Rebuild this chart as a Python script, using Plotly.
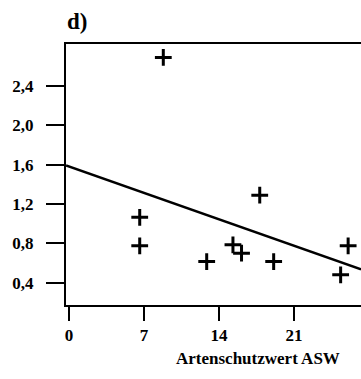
import plotly.graph_objects as go

# Data
asw = [8.8, 17.8, 6.6, 6.6, 12.85, 15.3, 16.1, 19.1, 25.35, 26.05]
vals = [2.69, 1.29, 1.065, 0.775, 0.615, 0.785, 0.70, 0.615, 0.48, 0.775]

reg_intercept = 1.582
reg_slope = -0.0384

x_ticks = [0, 7, 14, 21]
y_ticks = [0.4, 0.8, 1.2, 1.6, 2.0, 2.4]

x_range = [-0.28, 27.25]
y_range = [0.173, 2.827]

line_x = x_range
line_y = [reg_intercept + reg_slope * v for v in line_x]

font_family = "Liberation Serif"

fig = go.Figure()
fig.add_trace(go.Scatter(
    x=line_x, y=line_y, mode="lines",
    line=dict(color="black", width=2.5), showlegend=False,
))
fig.add_trace(go.Scatter(
    x=asw, y=vals, mode="markers",
    marker=dict(symbol="cross-thin", size=12, line=dict(color="black", width=3)),
    showlegend=False, cliponaxis=False,
))

fig.update_layout(
    width=361, height=379,
    margin=dict(l=66, r=0, t=44, b=74),
    paper_bgcolor="white", plot_bgcolor="white",
    separators=",.",
    font=dict(family=font_family, color="black"),
    xaxis=dict(
        range=x_range, tickvals=x_ticks, ticktext=[str(v) for v in x_ticks],
        showgrid=False, zeroline=False,
        showline=True, linecolor="black", linewidth=2, mirror=True,
        ticks="outside", ticklen=14, tickwidth=2, tickcolor="black",
        tickfont=dict(family=font_family, size=17, color="black", weight="bold"),
        ticklabelstandoff=0,
    ),
    yaxis=dict(
        range=y_range, tickvals=y_ticks, tickformat=".1f",
        showgrid=False, zeroline=False,
        showline=True, linecolor="black", linewidth=2,
        ticks="outside", ticklen=18, tickwidth=2, tickcolor="black",
        tickfont=dict(family=font_family, size=17, color="black", weight="bold"),
        ticklabelstandoff=9,
    ),
    annotations=[
        dict(text="<b>d)</b>", xref="paper", yref="paper", x=-0.005, y=1.0 + 22 / 261,
             xanchor="left", yanchor="middle", showarrow=False,
             font=dict(family=font_family, size=23, color="black")),
        dict(text="<b>Artenschutzwert ASW</b>", xref="paper", yref="paper",
             x=(258 - 66) / 295, y=-(358 - 305) / 261,
             xanchor="center", yanchor="middle", showarrow=False,
             font=dict(family=font_family, size=17, color="black")),
    ],
)

fig.write_html(
    "out.html",
    config={"displayModeBar": False},
    post_script="document.body.style.margin='0';document.body.style.overflow='hidden';",
)
